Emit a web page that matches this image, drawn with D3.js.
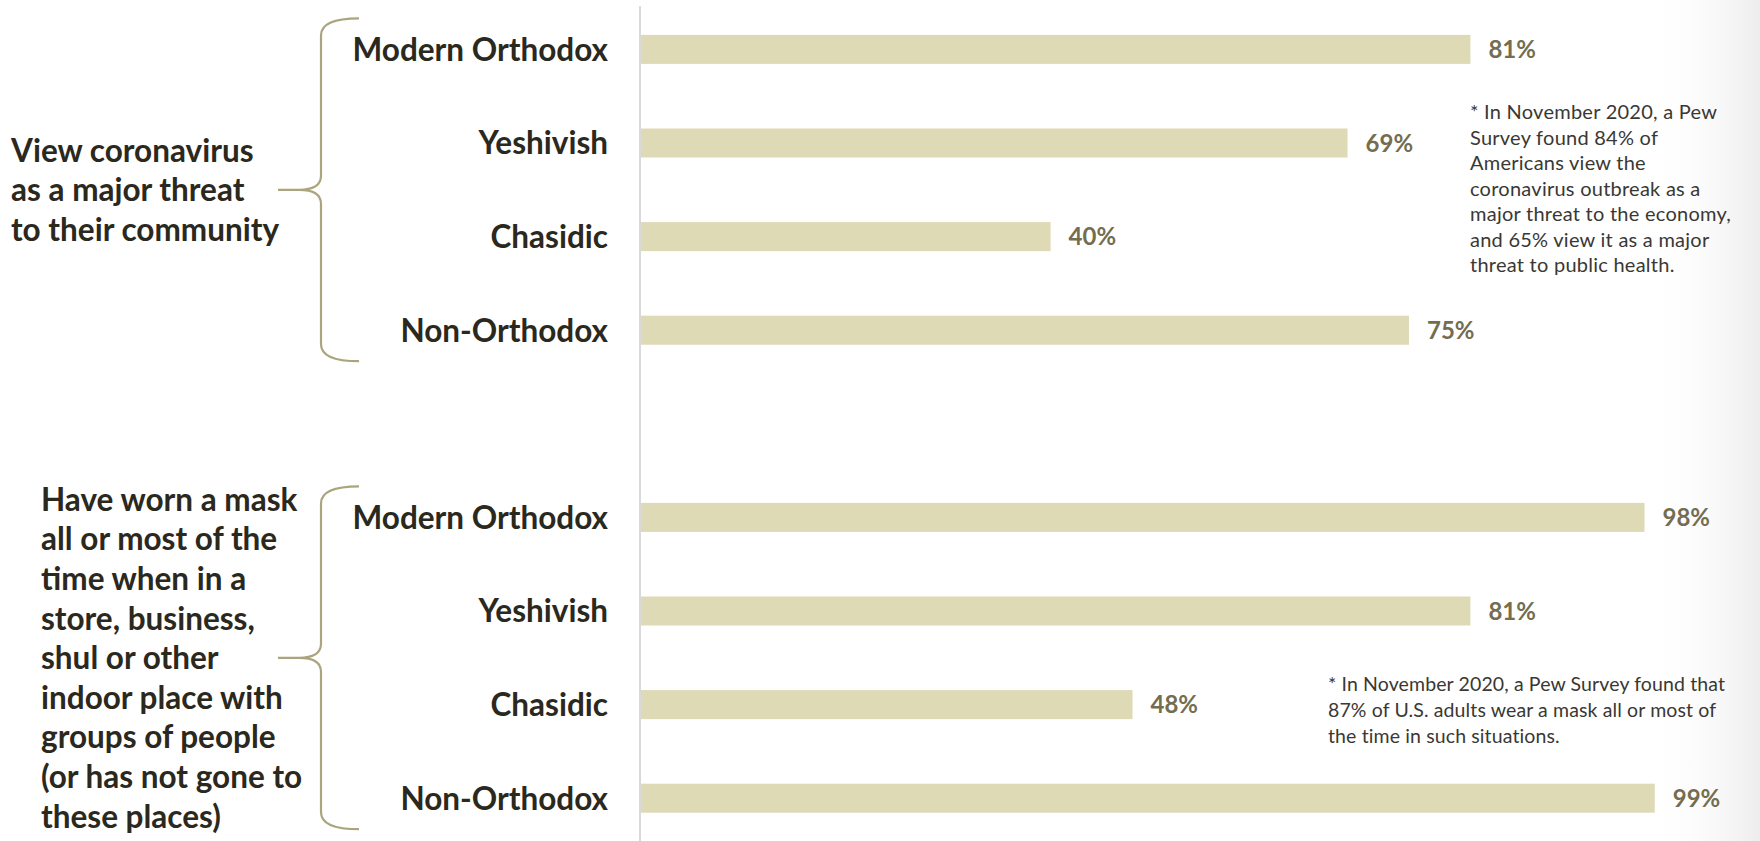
<!DOCTYPE html>
<html>
<head>
<meta charset="utf-8">
<script src="https://cdn.jsdelivr.net/npm/d3@7/dist/d3.min.js"></script>
<style>
  html, body { margin: 0; padding: 0; background: #ffffff; }
  svg { display: block; }
</style>
</head>
<body>
<svg id="chart" width="1760" height="841"></svg>
<script>
// ---------------- DATA ----------------
const categories = ["Modern Orthodox", "Yeshivish", "Chasidic", "Non-Orthodox"];
const threatValues = [81, 69, 40, 75];
const maskValues = [98, 81, 48, 99];
const groupTitleThreat = ["View coronavirus", "as a major threat", "to their community"];
const groupTitleMask = ["Have worn a mask", "all or most of the", "time when in a", "store, business,",
  "shul or other", "indoor place with", "groups of people", "(or has not gone to", "these places)"];
const noteThreat = ["* In November 2020, a Pew", "Survey found 84% of", "Americans view the",
  "coronavirus outbreak as a", "major threat to the economy,", "and 65% view it as a major",
  "threat to public health."];
const noteMask = ["* In November 2020, a Pew Survey found that",
  "87% of U.S. adults wear a mask all or most of", "the time in such situations."];

// ---------------- SETUP ----------------
const W = 1760, H = 841;
const svg = d3.select("#chart");
const FONT = "Lato, 'Open Sans', 'Liberation Sans', sans-serif";

const groups = [
  { key: "threat", values: threatValues, title: groupTitleThreat, note: noteThreat },
  { key: "mask", values: maskValues, title: groupTitleMask, note: noteMask }
];

// row keys: group rows with one empty slot between groups
const rowKeys = [];
groups.forEach((g, gi) => {
  if (gi > 0) rowKeys.push("gap" + gi);
  categories.forEach(c => rowKeys.push(g.key + "|" + c));
});

const y = d3.scaleBand().domain(rowKeys).range([2.6, 845]).paddingInner(0.69).paddingOuter(0.345);
const x = d3.scaleLinear().domain([0, 100]).range([641, 1665]);

// background right-edge shading
const defs = svg.append("defs");
const grad = defs.append("linearGradient").attr("id", "edge").attr("x1", 0).attr("x2", 1).attr("y1", 0).attr("y2", 0);
grad.append("stop").attr("offset", "0%").attr("stop-color", "#ffffff").attr("stop-opacity", 0);
grad.append("stop").attr("offset", "100%").attr("stop-color", "#ededed").attr("stop-opacity", 1);
svg.append("rect").attr("x", 1650).attr("y", 0).attr("width", 110).attr("height", H).attr("fill", "url(#edge)");

// axis line
svg.append("line")
  .attr("x1", x(0) - 1).attr("x2", x(0) - 1)
  .attr("y1", 6).attr("y2", H)
  .attr("stroke", "#d9d9d9").attr("stroke-width", 2);

groups.forEach((g, gi) => {
  const rows = categories.map((c, i) => ({ cat: c, value: g.values[i], key: g.key + "|" + c }));

  // bars
  svg.append("g").selectAll("rect").data(rows).join("rect")
    .attr("x", x(0))
    .attr("y", d => y(d.key))
    .attr("width", d => x(d.value) - x(0))
    .attr("height", y.bandwidth())
    .attr("fill", "#dfdab6");

  // value labels
  svg.append("g").selectAll("text").data(rows).join("text")
    .attr("x", d => x(d.value) + 18)
    .attr("y", d => y(d.key) + y.bandwidth() / 2)
    .attr("dy", "0.36em")
    .attr("font-family", FONT).attr("font-weight", 700).attr("font-size", 24)
    .attr("fill", "#746d4f")
    .text(d => d.value + "%");

  // category labels
  svg.append("g").selectAll("text").data(rows).join("text")
    .attr("x", 608)
    .attr("y", d => y(d.key) + y.bandwidth() / 2)
    .attr("dy", "0.36em")
    .attr("text-anchor", "end")
    .attr("font-family", FONT).attr("font-weight", 700).attr("font-size", 31.5)
    .attr("fill", "#2b281d")
    .text(d => d.cat);

  // brace
  const cTop = y(rows[0].key) + y.bandwidth() / 2;
  const cBot = y(rows[rows.length - 1].key) + y.bandwidth() / 2;
  const top = cTop - 31, bot = cBot + 31, mid = (top + bot) / 2;
  const xr = 359, xv = 321, xp = 278;
  const p = d3.path();
  p.moveTo(xr, top);
  p.quadraticCurveTo(xv, top, xv, top + 17);
  p.lineTo(xv, mid - 14);
  p.quadraticCurveTo(xv, mid, xv - 22, mid);
  p.lineTo(xp, mid);
  p.moveTo(xv - 22, mid);
  p.quadraticCurveTo(xv, mid, xv, mid + 14);
  p.lineTo(xv, bot - 17);
  p.quadraticCurveTo(xv, bot, xr, bot);
  svg.append("path").attr("d", p.toString())
    .attr("fill", "none").attr("stroke", "#aaa57d").attr("stroke-width", 2.2);

  // group title
  const lh = 39.6;
  const tx = gi === 0 ? 11 : 41;
  const t0 = mid - (g.title.length - 1) * lh / 2;
  svg.append("g").selectAll("text").data(g.title).join("text")
    .attr("x", tx)
    .attr("y", (d, i) => t0 + i * lh)
    .attr("dy", "0.36em")
    .attr("font-family", FONT).attr("font-weight", 700).attr("font-size", 31.5)
    .attr("fill", "#2b281d")
    .text(d => d);
});

// notes
const notePos = [
  { x: 1470, y: 112, lh: 25.5, size: 20, ls: 0.25 },
  { x: 1328, y: 683.5, lh: 26.3, size: 19.5, ls: 0.12 }
];
groups.forEach((g, gi) => {
  const np = notePos[gi];
  svg.append("g").selectAll("text").data(g.note).join("text")
    .attr("x", np.x)
    .attr("y", (d, i) => np.y + i * np.lh)
    .attr("dy", "0.36em")
    .attr("font-family", FONT).attr("font-weight", 400).attr("font-size", np.size)
    .attr("letter-spacing", np.ls)
    .attr("fill", "#3a3833")
    .text(d => d);
});
</script>
</body>
</html>
